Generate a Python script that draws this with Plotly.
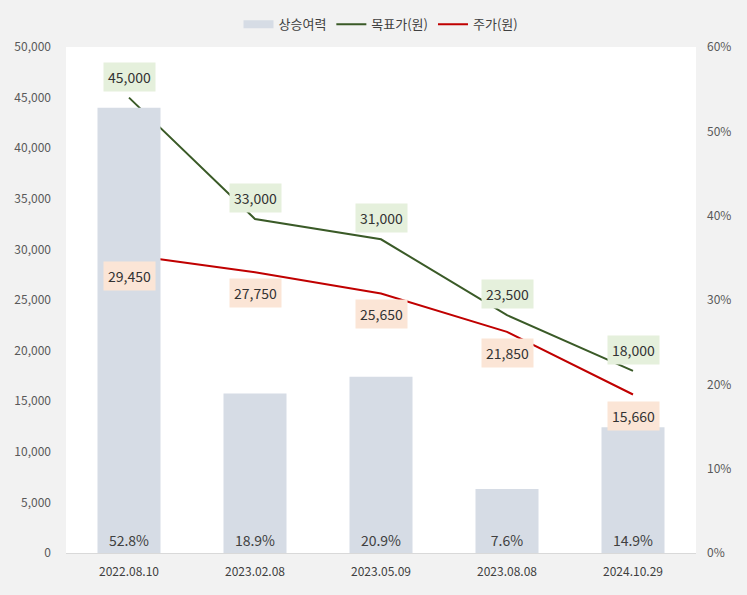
import plotly.graph_objects as go

dates = ["2022.08.10", "2023.02.08", "2023.05.09", "2023.08.08", "2024.10.29"]
upside = [52.8, 18.9, 20.9, 7.6, 14.9]
target = [45000, 33000, 31000, 23500, 18000]
price = [29450, 27750, 25650, 21850, 15660]

FONT = "Noto Sans CJK KR, Noto Sans, sans-serif"
BAR_COLOR = "#d6dce5"

fig = go.Figure()
fig.add_trace(go.Bar(
    x=dates, y=upside, name="상승여력", yaxis="y2", showlegend=False,
    marker=dict(color=BAR_COLOR, line=dict(width=0)),
    width=0.5,
    text=[f"{v:.1f}%" for v in upside],
    textposition="inside", insidetextanchor="start",
    textfont=dict(size=14, color="#404040", family=FONT),
    cliponaxis=False,
))
# legend proxy for the bar series (wide rectangle swatch)
fig.add_trace(go.Scatter(
    x=[None], y=[None], name="상승여력", mode="lines",
    line=dict(color=BAR_COLOR, width=8),
))
fig.add_trace(go.Scatter(
    x=dates, y=target, name="목표가(원)", mode="lines",
    line=dict(color="#3a5a27", width=2),
))
fig.add_trace(go.Scatter(
    x=dates, y=price, name="주가(원)", mode="lines",
    line=dict(color="#c00000", width=2),
))

annotations = []
for d, v in zip(dates, target):
    annotations.append(dict(
        x=d, y=v, xref="x", yref="y", text=f"{v:,}", showarrow=False,
        yshift=21, bgcolor="#e5f0dc", borderpad=4,
        font=dict(size=14, color="#333333", family=FONT),
    ))
for d, v in zip(dates, price):
    annotations.append(dict(
        x=d, y=v, xref="x", yref="y", text=f"{v:,}", showarrow=False,
        yshift=-21, bgcolor="#fbe5d6", borderpad=4,
        font=dict(size=14, color="#333333", family=FONT),
    ))

fig.update_layout(
    width=747, height=595,
    paper_bgcolor="#f2f2f2", plot_bgcolor="#ffffff",
    margin=dict(l=66, r=51, t=47, b=42, autoexpand=False),
    font=dict(family=FONT, size=12, color="#595959"),
    showlegend=True,
    legend=dict(orientation="h", x=0.5, xanchor="center", y=1.015, yanchor="bottom",
                font=dict(size=13, color="#404040", family=FONT),
                bgcolor="rgba(0,0,0,0)", traceorder="normal"),
    xaxis=dict(showgrid=False, showline=True, linecolor="#d9d9d9", linewidth=1,
               ticks="", tickfont=dict(size=12, color="#404040"), ticklabelstandoff=8),
    yaxis=dict(range=[0, 50000], dtick=5000, tickformat=",", showgrid=False,
               zeroline=False, showline=False, ticks="",
               tickfont=dict(size=12, color="#595959"), ticklabelstandoff=14),
    yaxis2=dict(range=[0, 60], dtick=10, ticksuffix="%", overlaying="y", side="right",
                showgrid=False, zeroline=False, showline=False, ticks="",
                tickfont=dict(size=12, color="#595959"), ticklabelstandoff=10),
    annotations=annotations,
)

fig.write_html("out.html", config={"displayModeBar": False},
               post_script="document.body.style.margin='0';")
